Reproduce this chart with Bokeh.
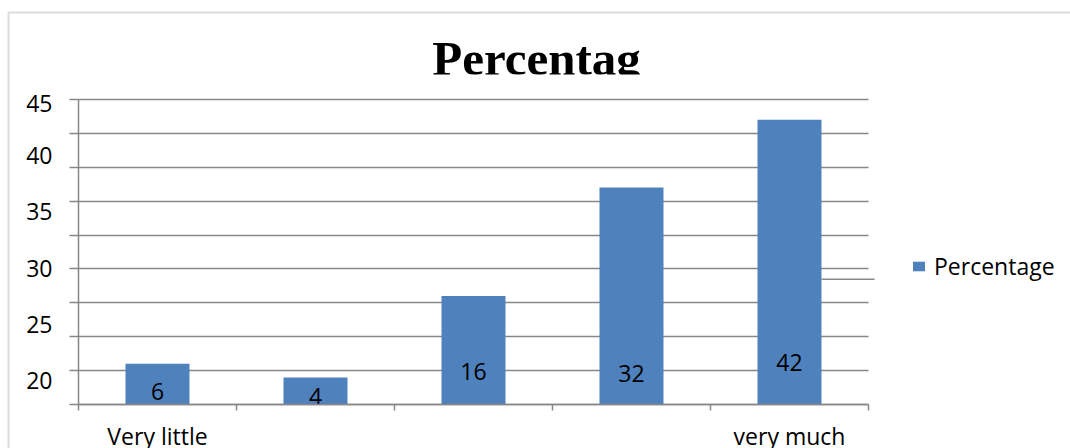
from bokeh.plotting import figure
from bokeh.models import (ColumnDataSource, FixedTicker, Label, Legend,
                          LegendItem, BoxAnnotation, Range1d)
from bokeh.core.properties import value
from bokeh.embed import file_html
from bokeh.resources import INLINE

# ---- data ----
categories = ["Very little", "", "", "", "very much"]
percentages = [6, 4, 16, 32, 42]
value_labels = ["6", "4", "16", "32", "42"]
value_label_y = [1.9, 1.2, 4.9, 4.6, 6.2]
grid_ticks = [0, 5, 10, 15, 20, 25, 30, 35, 40, 45]
y_tick_labels = ["45", "40", "35", "30", "25", "20"]
y_tick_positions = [44.4, 36.8, 28.5, 20.1, 11.8, 3.5]
title_text = "Percentag"
series_name = "Percentage"

BLUE = "#4F81BD"
GRID = "#878787"
FONT = "Open Sans"

W, H = 1070, 448
# plot area of the chart inside the canvas (pixels)
PL, PR, PT, PB = 78, 868, 99, 404

n = len(categories)
ymax = grid_ticks[-1]
xs = [i + 0.5 for i in range(n)]
cat_bounds = list(range(n + 1))

# the frame covers the whole canvas; the ranges are chosen so that the chart's
# plot area (0..n, 0..ymax) lands on PL..PR, PB..PT
xu = (PR - PL) / n
yu = (PB - PT) / ymax
x_range = Range1d(-PL / xu, n + (W - PR) / xu)
y_range = Range1d(-(H - PB) / yu, ymax + PT / yu)

src = ColumnDataSource(dict(x=xs, top=percentages, lab=value_labels, ly=value_label_y))

p = figure(width=W, height=H, x_range=x_range, y_range=y_range,
           output_backend="svg", toolbar_location=None,
           min_border=0, min_border_left=0, min_border_right=0,
           min_border_top=0, min_border_bottom=0)
p.outline_line_color = None
p.background_fill_color = "white"
p.border_fill_color = "white"

# grid lines (limited to the plot area)
p.xgrid.visible = False
yg = p.ygrid[0]
if "cross_bounds" in yg.properties():
    yg.ticker = FixedTicker(ticks=grid_ticks)
    yg.cross_bounds = (0, n)
    yg.grid_line_color = GRID
    yg.grid_line_width = 1.5
else:
    yg.visible = False
    p.segment(x0=0, x1=n, y0=grid_ticks, y1=grid_ticks, line_color=GRID, line_width=1.5)

r = p.vbar(x="x", top="top", width=0.405, source=src, fill_color=BLUE, line_color=None)

# y axis
ya = p.yaxis[0]
ya.fixed_location = 0
ya.bounds = (0, ymax)
ya.ticker = FixedTicker(ticks=y_tick_positions, minor_ticks=grid_ticks)
ya.major_label_overrides = {pos: lab for pos, lab in zip(y_tick_positions, y_tick_labels)}
ya.major_tick_out = 0
ya.major_tick_in = 0
ya.minor_tick_out = 9
ya.minor_tick_in = 0
ya.minor_tick_line_color = GRID
ya.minor_tick_line_width = 1.5
ya.axis_line_color = GRID
ya.axis_line_width = 1.5
ya.major_label_standoff = 17
ya.major_label_text_font = FONT
ya.major_label_text_font_size = "23px"
ya.major_label_text_color = "black"

# x axis
xa = p.xaxis[0]
xa.fixed_location = 0
xa.bounds = (0, n)
xa.ticker = FixedTicker(ticks=xs, minor_ticks=cat_bounds)
xa.major_label_overrides = {x: c for x, c in zip(xs, categories)}
xa.major_tick_out = 0
xa.major_tick_in = 0
xa.minor_tick_out = 6
xa.minor_tick_in = 0
xa.minor_tick_line_color = GRID
xa.minor_tick_line_width = 1.5
xa.axis_line_color = GRID
xa.axis_line_width = 1.5
xa.major_label_standoff = 9
xa.major_label_text_font = FONT
xa.major_label_text_font_size = "23px"
xa.major_label_text_color = "black"

# value labels inside bars
p.text(x="x", y="ly", text="lab", source=src, text_align="center",
       text_baseline="middle", text_font=value(FONT), text_font_size="23px",
       text_color="black")

# title (its lower part is cut off in the original chart)
p.add_layout(Label(x=(536 - PL) / xu, y=(PB - 58) / yu, text=title_text,
                   text_align="center", text_baseline="alphabetic",
                   text_font="Liberation Serif", text_font_style="bold",
                   text_font_size="49px", text_color="black"))
p.add_layout(BoxAnnotation(left=400, right=700, top=H - 74, bottom=H - 97,
                           left_units="screen", right_units="screen",
                           top_units="screen", bottom_units="screen",
                           fill_color="white", fill_alpha=1, line_alpha=0,
                           level="overlay"))

# legend (its text is cut off at the bottom in the original chart)
legend = Legend(items=[LegendItem(label=series_name, renderers=[r])],
                location=(911, H - 282), glyph_width=15, glyph_height=12,
                label_standoff=8, padding=0, margin=0, border_line_color=None,
                background_fill_alpha=0, label_text_font=FONT,
                label_text_font_size="23px", label_text_color="black")
p.add_layout(legend)
p.add_layout(BoxAnnotation(left=928, right=1066, top=H - 276, bottom=H - 295,
                           left_units="screen", right_units="screen",
                           top_units="screen", bottom_units="screen",
                           fill_color="white", fill_alpha=1, line_alpha=0,
                           level="overlay"))
# short grey edge line left over from the clipped legend area
p.add_layout(BoxAnnotation(left=821, right=874, top=H - 278, bottom=H - 279.5,
                           left_units="screen", right_units="screen",
                           top_units="screen", bottom_units="screen",
                           fill_color=GRID, fill_alpha=1, line_alpha=0))

# outer chart border
p.add_layout(BoxAnnotation(left=8, right=W + 30, top=H - 12, bottom=-30,
                           left_units="screen", right_units="screen",
                           top_units="screen", bottom_units="screen",
                           fill_alpha=0, line_color="#8a8a8a", line_width=2))

open("out.html", "w").write(file_html(p, INLINE))
